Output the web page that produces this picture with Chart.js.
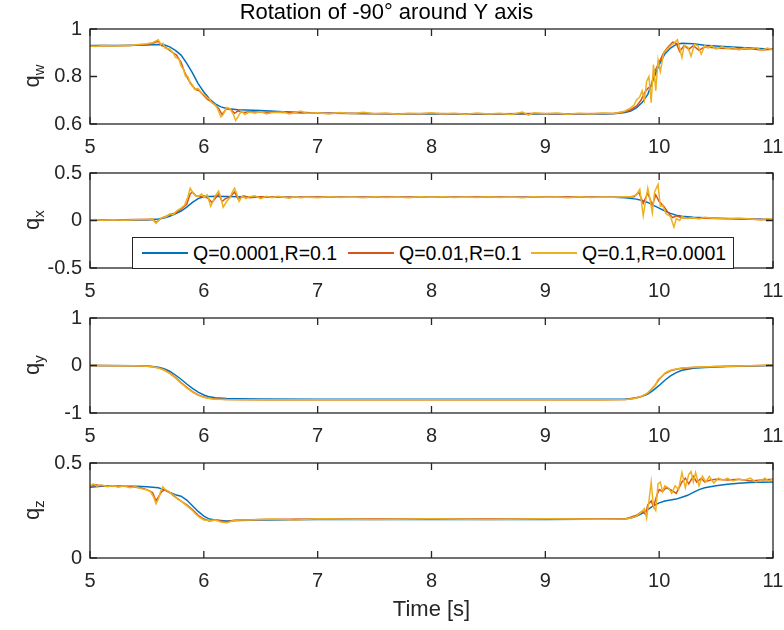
<!DOCTYPE html>
<html>
<head>
<meta charset="utf-8">
<script src="https://cdn.jsdelivr.net/npm/chart.js@4.4.0/dist/chart.umd.min.js"></script>
<style>
  body { margin: 0; background: #fff; width: 784px; height: 630px; position: relative; overflow: hidden;
         font-family: 'Liberation Sans', Arial, sans-serif; }
  canvas { position: absolute; left: 0; }
  .ylab { position: absolute; transform: translate(-50%, -50%) rotate(-90deg); font-size: 22px;
          color: #262626; white-space: nowrap; line-height: 1; }
  .ylab sub { font-size: 15px; vertical-align: -5px; }
  #legend { position: absolute; left: 132px; top: 237px; width: 600px; height: 30px;
            border: 1px solid #262626; background: #fff; font-size: 19.5px; color: #000; }
  #legend .ln { position: absolute; top: 14px; width: 46px; height: 2px; }
  #legend .tx { position: absolute; top: 0; line-height: 30px; white-space: nowrap; }
</style>
</head>
<body>
<canvas id="c1" width="784" height="159" style="top:0px"></canvas>
<canvas id="c2" width="784" height="144" style="top:159px"></canvas>
<canvas id="c3" width="784" height="145" style="top:303px"></canvas>
<canvas id="c4" width="784" height="182" style="top:448px"></canvas>

<div class="ylab" style="left:33px;top:76px">q<sub>w</sub></div>
<div class="ylab" style="left:33px;top:220px">q<sub>x</sub></div>
<div class="ylab" style="left:33px;top:365px">q<sub>y</sub></div>
<div class="ylab" style="left:33px;top:510px">q<sub>z</sub></div>

<div id="legend"></div>

<script>
// series labels + colours (matlab default order)
const seriesNames = ['Q=0.0001,R=0.1', 'Q=0.01,R=0.1', 'Q=0.1,R=0.0001'];
const seriesColors = ['#0072BD', '#D95319', '#EDB120'];

const xTicks = [5, 6, 7, 8, 9, 10, 11];

// ---- q_w ----
const qwBlue = [[5,0.93],[5.3,0.931],[5.5,0.933],[5.6,0.935],[5.65,0.934],[5.7,0.925],[5.75,0.91],[5.8,0.89],[5.85,0.855],[5.9,0.815],[5.95,0.77],[6.0,0.735],[6.05,0.705],[6.1,0.685],[6.15,0.672],[6.2,0.665],[6.3,0.66],[6.5,0.657],[6.7,0.652],[7,0.646],[7.5,0.643],[8,0.642],[9,0.642],[9.5,0.642],[9.6,0.643],[9.7,0.648],[9.75,0.655],[9.8,0.668],[9.85,0.69],[9.9,0.725],[9.95,0.79],[10.0,0.85],[10.05,0.895],[10.1,0.92],[10.15,0.935],[10.2,0.94],[10.3,0.938],[10.4,0.932],[10.6,0.925],[10.8,0.92],[11,0.915]];
const qwRed = [[5,0.928],[5.1,0.93],[5.2,0.929],[5.3,0.931],[5.4,0.932],[5.5,0.935],[5.55,0.94],[5.6,0.948],[5.63,0.93],[5.66,0.925],[5.7,0.91],[5.73,0.9],[5.76,0.89],[5.8,0.86],[5.83,0.82],[5.86,0.79],[5.9,0.76],[5.93,0.745],[5.96,0.74],[6.0,0.72],[6.03,0.705],[6.06,0.695],[6.1,0.68],[6.13,0.665],[6.16,0.64],[6.2,0.665],[6.24,0.66],[6.27,0.645],[6.3,0.655],[6.35,0.648],[6.4,0.652],[6.5,0.65],[6.7,0.648],[6.9,0.646],[7.1,0.645],[7.4,0.644],[7.7,0.643],[8.0,0.644],[8.3,0.643],[8.6,0.643],[8.9,0.644],[9.2,0.643],[9.5,0.644],[9.6,0.644],[9.65,0.648],[9.7,0.652],[9.75,0.66],[9.8,0.675],[9.84,0.7],[9.87,0.73],[9.9,0.75],[9.93,0.76],[9.96,0.82],[10.0,0.86],[10.04,0.9],[10.08,0.925],[10.12,0.945],[10.15,0.94],[10.18,0.905],[10.22,0.93],[10.26,0.915],[10.3,0.93],[10.35,0.91],[10.4,0.925],[10.5,0.92],[10.6,0.918],[10.7,0.916],[10.8,0.917],[10.9,0.912],[11,0.915]];
const qwYellow = [[5,0.928],[5.05,0.926],[5.1,0.929],[5.15,0.931],[5.2,0.928],[5.3,0.931],[5.35,0.93],[5.4,0.934],[5.45,0.936],[5.5,0.938],[5.55,0.942],[5.58,0.95],[5.6,0.955],[5.62,0.935],[5.64,0.94],[5.66,0.92],[5.7,0.915],[5.73,0.9],[5.75,0.88],[5.78,0.875],[5.8,0.845],[5.82,0.83],[5.84,0.8],[5.86,0.8],[5.88,0.77],[5.9,0.765],[5.92,0.745],[5.95,0.75],[5.98,0.73],[6.0,0.725],[6.03,0.71],[6.05,0.705],[6.07,0.69],[6.1,0.68],[6.12,0.665],[6.15,0.63],[6.17,0.64],[6.2,0.67],[6.23,0.665],[6.26,0.64],[6.28,0.615],[6.3,0.63],[6.33,0.655],[6.36,0.64],[6.4,0.65],[6.45,0.645],[6.5,0.652],[6.55,0.642],[6.6,0.648],[6.7,0.651],[6.75,0.642],[6.8,0.648],[6.85,0.655],[6.9,0.645],[7.0,0.647],[7.1,0.642],[7.2,0.648],[7.3,0.643],[7.4,0.649],[7.5,0.643],[7.6,0.646],[7.7,0.641],[7.8,0.645],[7.9,0.643],[8.0,0.647],[8.1,0.642],[8.2,0.645],[8.3,0.641],[8.4,0.646],[8.5,0.642],[8.6,0.645],[8.7,0.64],[8.8,0.65],[8.85,0.637],[8.9,0.647],[9.0,0.643],[9.1,0.646],[9.2,0.641],[9.3,0.645],[9.4,0.642],[9.5,0.646],[9.6,0.644],[9.65,0.648],[9.7,0.655],[9.75,0.668],[9.78,0.68],[9.8,0.7],[9.83,0.715],[9.85,0.74],[9.87,0.7],[9.89,0.78],[9.91,0.8],[9.93,0.69],[9.95,0.85],[9.97,0.74],[9.99,0.87],[10.01,0.82],[10.04,0.9],[10.07,0.915],[10.1,0.93],[10.13,0.94],[10.16,0.955],[10.18,0.92],[10.2,0.88],[10.22,0.93],[10.25,0.925],[10.28,0.885],[10.31,0.935],[10.34,0.93],[10.37,0.895],[10.4,0.93],[10.43,0.92],[10.46,0.93],[10.5,0.915],[10.55,0.925],[10.6,0.918],[10.65,0.922],[10.7,0.912],[10.75,0.92],[10.8,0.915],[10.85,0.922],[10.9,0.91],[10.95,0.92],[11,0.912]];

// ---- q_x ----
const qxBlue = [[5,0.005],[5.3,0.003],[5.5,0.005],[5.55,0.01],[5.6,0.015],[5.65,0.025],[5.7,0.045],[5.75,0.07],[5.8,0.1],[5.85,0.14],[5.9,0.19],[5.95,0.23],[6.0,0.25],[6.1,0.255],[6.3,0.25],[6.6,0.245],[7,0.245],[8,0.245],[9,0.245],[9.6,0.245],[9.7,0.24],[9.8,0.225],[9.85,0.21],[9.9,0.19],[9.95,0.16],[10.0,0.13],[10.05,0.1],[10.1,0.075],[10.15,0.055],[10.2,0.045],[10.3,0.035],[10.5,0.025],[10.7,0.018],[10.9,0.012],[11,0.01]];
const qxRed = [[5,0.005],[5.2,0.005],[5.4,0.01],[5.55,0.012],[5.58,-0.02],[5.62,0.02],[5.7,0.06],[5.75,0.08],[5.8,0.12],[5.85,0.17],[5.88,0.28],[5.9,0.3],[5.93,0.26],[5.97,0.25],[6.0,0.26],[6.04,0.23],[6.07,0.19],[6.1,0.23],[6.13,0.28],[6.16,0.2],[6.19,0.23],[6.23,0.25],[6.27,0.3],[6.3,0.23],[6.35,0.26],[6.4,0.24],[6.5,0.25],[6.7,0.245],[7.0,0.248],[7.3,0.244],[7.6,0.247],[8.0,0.245],[8.4,0.247],[8.8,0.244],[9.2,0.247],[9.6,0.245],[9.7,0.245],[9.78,0.25],[9.82,0.3],[9.86,0.18],[9.9,0.29],[9.94,0.16],[9.97,0.27],[10.0,0.2],[10.04,0.15],[10.08,0.08],[10.12,0.03],[10.15,0.05],[10.2,0.03],[10.3,0.025],[10.5,0.02],[10.8,0.012],[11,0.008]];
const qxYellow = [[5,0.005],[5.05,0.01],[5.1,0.003],[5.2,0.008],[5.3,0.002],[5.4,0.008],[5.5,0.01],[5.55,0.015],[5.58,-0.03],[5.6,0.0],[5.63,0.03],[5.67,0.04],[5.7,0.07],[5.73,0.06],[5.76,0.1],[5.8,0.13],[5.83,0.16],[5.86,0.25],[5.88,0.34],[5.9,0.3],[5.92,0.27],[5.95,0.25],[5.98,0.28],[6.0,0.24],[6.03,0.27],[6.06,0.15],[6.08,0.2],[6.1,0.26],[6.13,0.31],[6.15,0.24],[6.17,0.14],[6.2,0.2],[6.23,0.24],[6.25,0.3],[6.27,0.34],[6.29,0.28],[6.31,0.2],[6.34,0.26],[6.37,0.23],[6.4,0.25],[6.45,0.26],[6.5,0.23],[6.55,0.255],[6.6,0.24],[6.65,0.255],[6.7,0.245],[6.75,0.235],[6.8,0.25],[6.85,0.24],[6.9,0.248],[7.0,0.24],[7.1,0.25],[7.2,0.243],[7.3,0.248],[7.4,0.24],[7.5,0.25],[7.6,0.243],[7.7,0.248],[7.8,0.24],[7.9,0.25],[8.0,0.245],[8.1,0.25],[8.2,0.242],[8.3,0.248],[8.4,0.242],[8.5,0.25],[8.6,0.243],[8.7,0.248],[8.8,0.24],[8.9,0.25],[9.0,0.245],[9.1,0.248],[9.2,0.24],[9.3,0.25],[9.4,0.243],[9.5,0.248],[9.6,0.245],[9.7,0.25],[9.75,0.25],[9.8,0.27],[9.83,0.33],[9.86,0.05],[9.88,0.2],[9.9,0.34],[9.92,0.22],[9.94,0.08],[9.96,0.3],[9.99,0.38],[10.01,0.15],[10.03,0.16],[10.06,0.07],[10.1,0.04],[10.13,-0.07],[10.15,0.02],[10.18,0.0],[10.2,0.04],[10.25,0.02],[10.3,0.03],[10.35,0.015],[10.4,0.035],[10.5,0.02],[10.6,0.015],[10.7,0.025],[10.8,0.015],[10.9,0.005],[10.95,0.02],[11,0.01]];

// ---- q_y ----
const qyBlue = [[5,0],[5.4,-0.005],[5.5,-0.01],[5.55,-0.02],[5.6,-0.035],[5.65,-0.07],[5.7,-0.12],[5.75,-0.2],[5.8,-0.29],[5.85,-0.39],[5.9,-0.48],[5.95,-0.56],[6.0,-0.62],[6.05,-0.66],[6.1,-0.68],[6.2,-0.695],[6.3,-0.7],[6.5,-0.705],[7,-0.708],[9.5,-0.708],[9.7,-0.705],[9.75,-0.695],[9.8,-0.68],[9.85,-0.65],[9.9,-0.6],[9.95,-0.52],[10.0,-0.42],[10.05,-0.31],[10.1,-0.22],[10.15,-0.15],[10.2,-0.1],[10.3,-0.06],[10.4,-0.04],[10.6,-0.02],[10.8,-0.01],[11,0.0]];
const qyRed = [[5,0],[5.4,-0.005],[5.5,-0.015],[5.55,-0.025],[5.6,-0.05],[5.65,-0.09],[5.7,-0.16],[5.75,-0.25],[5.8,-0.36],[5.85,-0.46],[5.9,-0.55],[5.95,-0.62],[6.0,-0.665],[6.05,-0.69],[6.1,-0.705],[6.2,-0.715],[6.5,-0.72],[9.5,-0.72],[9.7,-0.715],[9.75,-0.705],[9.8,-0.685],[9.85,-0.645],[9.9,-0.58],[9.95,-0.46],[9.98,-0.36],[10.0,-0.29],[10.05,-0.17],[10.1,-0.11],[10.15,-0.08],[10.2,-0.06],[10.3,-0.04],[10.5,-0.02],[10.8,-0.005],[11,0.005]];
const qyYellow = [[5,0.003],[5.2,-0.004],[5.4,-0.003],[5.5,-0.017],[5.55,-0.028],[5.6,-0.052],[5.65,-0.095],[5.7,-0.165],[5.75,-0.26],[5.8,-0.37],[5.85,-0.47],[5.9,-0.56],[5.95,-0.625],[6.0,-0.67],[6.05,-0.695],[6.1,-0.708],[6.2,-0.718],[6.5,-0.722],[8,-0.72],[9.5,-0.722],[9.7,-0.716],[9.75,-0.706],[9.8,-0.686],[9.85,-0.643],[9.9,-0.575],[9.93,-0.5],[9.95,-0.45],[9.97,-0.4],[9.99,-0.3],[10.02,-0.24],[10.05,-0.16],[10.08,-0.12],[10.1,-0.1],[10.15,-0.075],[10.2,-0.055],[10.3,-0.035],[10.5,-0.02],[10.8,-0.003],[11,0.008]];

// ---- q_z ----
const qzBlue = [[5,0.372],[5.1,0.377],[5.2,0.378],[5.4,0.377],[5.5,0.375],[5.6,0.37],[5.65,0.36],[5.7,0.345],[5.75,0.333],[5.8,0.325],[5.85,0.305],[5.9,0.275],[5.95,0.245],[6.0,0.22],[6.05,0.205],[6.1,0.2],[6.2,0.195],[6.3,0.198],[6.5,0.2],[7,0.202],[8,0.203],[9,0.203],[9.7,0.205],[9.75,0.21],[9.8,0.22],[9.85,0.235],[9.9,0.255],[9.95,0.275],[10.0,0.29],[10.05,0.3],[10.1,0.305],[10.15,0.31],[10.2,0.32],[10.25,0.33],[10.3,0.345],[10.35,0.36],[10.4,0.37],[10.5,0.38],[10.6,0.388],[10.7,0.393],[10.8,0.397],[11,0.4]];
const qzRed = [[5,0.375],[5.05,0.385],[5.1,0.38],[5.2,0.378],[5.3,0.378],[5.4,0.372],[5.45,0.368],[5.5,0.36],[5.55,0.345],[5.58,0.3],[5.6,0.32],[5.63,0.35],[5.66,0.36],[5.7,0.345],[5.75,0.32],[5.8,0.3],[5.85,0.28],[5.9,0.255],[5.95,0.225],[6.0,0.205],[6.05,0.195],[6.1,0.2],[6.15,0.195],[6.2,0.19],[6.25,0.197],[6.3,0.2],[6.5,0.202],[7,0.205],[8,0.205],[9,0.205],[9.7,0.205],[9.75,0.215],[9.8,0.225],[9.85,0.245],[9.88,0.23],[9.9,0.28],[9.93,0.3],[9.95,0.27],[9.98,0.33],[10.0,0.36],[10.03,0.35],[10.06,0.37],[10.1,0.36],[10.15,0.34],[10.2,0.4],[10.23,0.42],[10.26,0.39],[10.3,0.43],[10.33,0.4],[10.37,0.42],[10.4,0.4],[10.45,0.41],[10.5,0.415],[10.6,0.41],[10.7,0.415],[10.8,0.405],[10.9,0.41],[11,0.415]];
const qzYellow = [[5,0.38],[5.03,0.39],[5.06,0.378],[5.1,0.385],[5.15,0.375],[5.2,0.38],[5.25,0.372],[5.3,0.38],[5.35,0.37],[5.4,0.375],[5.45,0.365],[5.5,0.358],[5.53,0.35],[5.56,0.32],[5.58,0.285],[5.6,0.31],[5.62,0.35],[5.64,0.375],[5.66,0.36],[5.68,0.355],[5.71,0.34],[5.74,0.33],[5.77,0.31],[5.8,0.3],[5.83,0.285],[5.86,0.27],[5.9,0.25],[5.93,0.23],[5.96,0.215],[6.0,0.2],[6.05,0.198],[6.1,0.2],[6.15,0.19],[6.2,0.185],[6.25,0.195],[6.3,0.2],[6.4,0.2],[6.6,0.205],[6.8,0.2],[7,0.206],[7.5,0.203],[8,0.206],[8.5,0.203],[9,0.206],[9.5,0.204],[9.7,0.205],[9.75,0.21],[9.8,0.22],[9.84,0.24],[9.87,0.26],[9.89,0.21],[9.91,0.3],[9.93,0.4],[9.95,0.27],[9.97,0.25],[9.99,0.39],[10.01,0.4],[10.03,0.35],[10.05,0.38],[10.08,0.37],[10.11,0.34],[10.14,0.38],[10.17,0.36],[10.2,0.45],[10.23,0.37],[10.26,0.44],[10.28,0.455],[10.3,0.4],[10.32,0.45],[10.35,0.38],[10.38,0.43],[10.41,0.4],[10.44,0.43],[10.48,0.395],[10.52,0.42],[10.56,0.41],[10.6,0.42],[10.65,0.405],[10.7,0.415],[10.75,0.41],[10.8,0.42],[10.85,0.4],[10.9,0.41],[10.93,0.42],[10.96,0.405],[11,0.415]];

const axisColor = '#262626';
Chart.defaults.font.family = "'Liberation Sans', Arial, sans-serif";
Chart.defaults.color = axisColor;

// matlab style box with inward ticks on all 4 sides
const matBox = {
  id: 'matBox',
  afterDraw(chart) {
    const ctx = chart.ctx, a = chart.chartArea;
    const xs = chart.scales.x, ys = chart.scales.y;
    const tl = 7;
    ctx.save();
    ctx.strokeStyle = axisColor;
    ctx.lineWidth = 1.3;
    ctx.beginPath();
    xs.ticks.forEach(t => {
      const px = xs.getPixelForValue(t.value);
      ctx.moveTo(px, a.bottom); ctx.lineTo(px, a.bottom - tl);
      ctx.moveTo(px, a.top); ctx.lineTo(px, a.top + tl);
    });
    ys.ticks.forEach(t => {
      const py = ys.getPixelForValue(t.value);
      ctx.moveTo(a.left, py); ctx.lineTo(a.left + tl, py);
      ctx.moveTo(a.right, py); ctx.lineTo(a.right - tl, py);
    });
    ctx.stroke();
    ctx.strokeRect(a.left, a.top, a.right - a.left, a.bottom - a.top);
    ctx.restore();
  }
};

function toPts(arr) {
  return arr.map(p => ({x: p[0], y: p[1]}));
}

// matlab prints 1 not 1.0
function fmtTick(v) {
  return String(Number(v.toFixed(3)));
}

function panel(id, series, ymin, ymax, ystep, padTop, bottomH, extra) {
  extra = extra || {};
  return new Chart(document.getElementById(id), {
    type: 'line',
    data: {
      datasets: series.map((s, i) => ({
        label: seriesNames[i],
        data: toPts(s),
        borderColor: seriesColors[i],
        borderWidth: 1.5,
        pointRadius: 0,
        tension: 0,
        order: 2 - i
      }))
    },
    options: {
      responsive: false,
      animation: false,
      events: [],
      layout: { padding: { top: padTop, left: 0, right: 11, bottom: 0 } },
      plugins: {
        legend: { display: false },
        tooltip: { enabled: false },
        title: extra.title ? {
          display: true, text: extra.title, color: '#000',
          font: { size: 22, weight: 'normal' }, padding: { top: 0, bottom: 2.6 }
        } : { display: false }
      },
      scales: {
        x: {
          type: 'linear', min: xTicks[0], max: xTicks[xTicks.length - 1],
          grid: { display: false, drawTicks: false },
          border: { display: false },
          ticks: { stepSize: 1, maxRotation: 0, autoSkip: false, padding: 11, font: { size: 20 }, callback: fmtTick },
          title: extra.xTitle ? {
            display: true, text: extra.xTitle, font: { size: 22 }, padding: { top: 0, bottom: 7 }
          } : { display: false },
          afterFit(s) { s.height = bottomH; s.paddingLeft = 0; s.paddingRight = 0; }
        },
        y: {
          min: ymin, max: ymax,
          grid: { display: false, drawTicks: false },
          border: { display: false },
          ticks: { stepSize: ystep, padding: 8, font: { size: 20 }, callback: fmtTick },
          afterFit(s) { s.width = 90; s.paddingTop = 0; s.paddingBottom = 0; }
        }
      }
    },
    plugins: [matBox]
  });
}

panel('c1', [qwBlue, qwRed, qwYellow], 0.6, 1, 0.2, 0, 35, { title: 'Rotation of -90° around Y axis' });
panel('c2', [qxBlue, qxRed, qxYellow], -0.5, 0.5, 0.5, 14, 35);
panel('c3', [qyBlue, qyRed, qyYellow], -1, 1, 1, 15, 35);
panel('c4', [qzBlue, qzRed, qzYellow], 0, 0.5, 0.5, 15, 72, { xTitle: 'Time [s]' });

// legend (sits inside the q_x axes, bottom)
const legendLeft = [9, 215, 398];
const leg = document.getElementById('legend');
seriesNames.forEach((name, i) => {
  const ln = document.createElement('div');
  ln.className = 'ln';
  ln.style.left = legendLeft[i] + 'px';
  ln.style.background = seriesColors[i];
  leg.appendChild(ln);
  const tx = document.createElement('span');
  tx.className = 'tx';
  tx.style.left = (legendLeft[i] + 51) + 'px';
  tx.textContent = name;
  leg.appendChild(tx);
});
</script>
</body>
</html>
